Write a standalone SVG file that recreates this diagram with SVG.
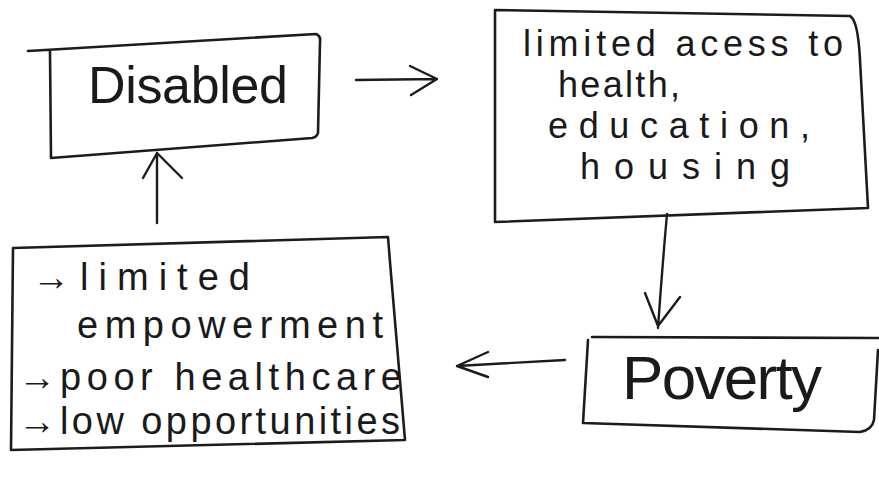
<svg xmlns="http://www.w3.org/2000/svg" width="879" height="477" viewBox="0 0 879 477">
  <defs>
    <style>
      .box { fill: none; stroke: #1c1c1c; stroke-width: 2.6; stroke-linejoin: round; stroke-linecap: round; }
      .conn { fill: none; stroke: #1c1c1c; stroke-width: 2.4; stroke-linecap: round; stroke-linejoin: round; }
      .txt { font-family: "Liberation Sans", "DejaVu Sans", sans-serif; fill: #1a1a1a; }
      .t36 { font-size: 36px; }
      .t38 { font-size: 38px; }
    </style>
  </defs>
  <rect width="879" height="477" fill="#ffffff"/>

  <g id="node-disabled">
    <path class="box" d="M28,51 L316,34 Q321,36 320,42 L318,133 Q317,137 312,138 L51,158 L50,52"/>
    <text class="txt" x="88" y="103" font-size="52" textLength="200">Disabled</text>
  </g>

  <g id="node-limited-access">
    <path class="box" d="M495,10 L850,16 Q858,20 860,60 L868,208 L495,222 L495,10"/>
    <text class="txt t36" x="523" y="56" textLength="320">limited acess to</text>
    <text class="txt t36" x="558" y="97" textLength="122">health,</text>
    <text class="txt t36" x="548" y="138" textLength="262">education,</text>
    <text class="txt t36" x="580" y="179" textLength="210">housing</text>
  </g>

  <g id="node-poverty">
    <path class="box" d="M592,337 L879,338 M588,340 L583,423 L860,432 Q872,430 874,420 L878,350"/>
    <text class="txt" x="622" y="399" font-size="62" textLength="200">Poverty</text>
  </g>

  <g id="node-effects">
    <path class="box" d="M13,248 L388,237 L390,262 L405,440 L11,450 L13,248"/>
    <text class="txt t38" x="32" y="290">→</text>
    <text class="txt t38" x="80" y="290" textLength="170">limited</text>
    <text class="txt t38" x="77" y="338" textLength="306">empowerment</text>
    <text class="txt t38" x="18" y="390">→</text>
    <text class="txt t38" x="60" y="390" textLength="342">poor healthcare</text>
    <text class="txt t38" x="18" y="434">→</text>
    <text class="txt t38" x="60" y="434" textLength="340">low opportunities</text>
  </g>

  <g id="connectors">
    <path class="conn" d="M356,80 L437,79 M410,66 L437,79 L411,95"/>
    <path class="conn" d="M667,214 Q662,270 658,328 M645,293 L658,326 L680,297"/>
    <path class="conn" d="M565,360 L457,366 M488,352 L457,366 L488,377"/>
    <path class="conn" d="M157,223 L157,153 M143,178 L157,153 L182,178"/>
  </g>
</svg>
